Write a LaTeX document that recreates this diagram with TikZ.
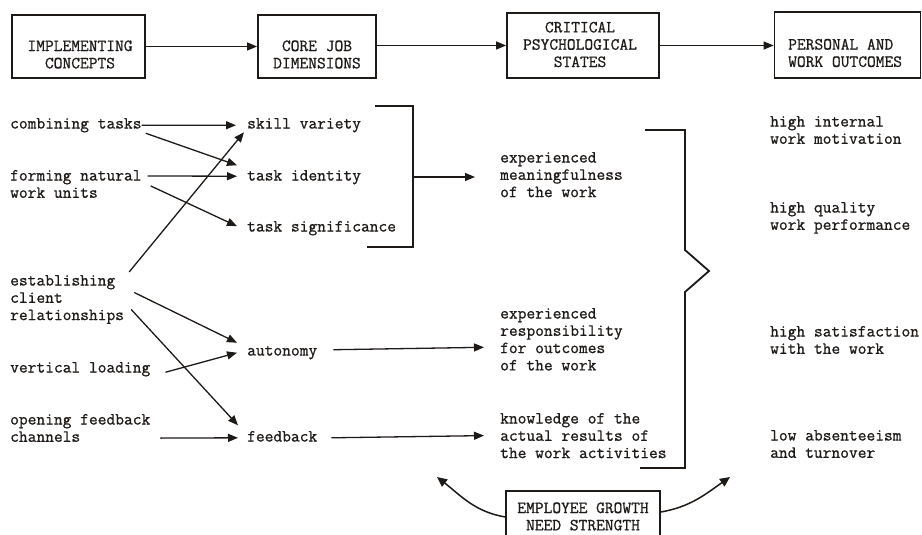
\documentclass[tikz,border=0pt]{standalone}
\usepackage{fontspec}
\usetikzlibrary{arrows.meta}
\newfontfamily\typewriter{Latin Modern Mono}[FakeBold=0.9]
\definecolor{ink}{HTML}{1E1A18}
\begin{document}
\begin{tikzpicture}[x=1pt,y=-1pt,
  typed/.style={font=\typewriter\fontsize{17}{17.3}\selectfont, text=ink, inner sep=0pt},
  tw/.style={typed, align=left, anchor=base west},
  box/.style={draw=ink, line width=1.8pt, inner sep=0pt},
  con/.style={draw=ink, line width=1.3pt, -{Triangle[length=10pt,width=8pt]}},
  curved/.style={draw=ink, line width=1.5pt, -{Triangle[length=10pt,width=9pt]}},
  brk/.style={draw=ink, line width=1.8pt, line join=miter}]
\path[use as bounding box, fill=white] (0,0) rectangle (922,535);
\clip (0,0) rectangle (922,535);

% top row of stage boxes
\node[box, minimum width=133pt, minimum height=63pt] (implbox) at (78.5,46.5) {};
\node[box, minimum width=118pt, minimum height=63pt] (corebox) at (317,46.5) {};
\node[box, minimum width=152pt, minimum height=65pt] (critbox) at (583,45.5) {};
\node[box, minimum width=146pt, minimum height=66pt] (persbox) at (847.5,45) {};
\node[typed, align=center] (impltxt) at (80,54.5) {IMPLEMENTING\\CONCEPTS};
\node[typed, align=center] (coretxt) at (317,54.5) {CORE JOB\\DIMENSIONS};
\node[typed, align=center] (crittxt) at (580,44.5) {CRITICAL\\PSYCHOLOGICAL\\STATES};
\node[typed, align=left, anchor=west] (perstxt) at (788,53) {PERSONAL AND\\WORK OUTCOMES};

\draw[con] (implbox.east) -- (implbox.east -| corebox.west);
\draw[con] (corebox.east |- critbox) -- (critbox.west);
\draw[con] (critbox.east) -- (critbox.east -| persbox.west);

% implementing concepts (multi-line nodes sit on the baseline of their last line)
\node[tw] (comb) at (10,128.5) {combining tasks};
\node[tw] (form) at (10,197.8) {forming natural\\work units};
\node[tw] (estab) at (10,320.1) {establishing\\client\\relationships};
\node[tw] (vert) at (10,372.5) {vertical loading};
\node[tw] (open) at (10,441.8) {opening feedback\\channels};

% core job dimensions
\node[tw] (skill) at (247,128.5) {skill variety};
\node[tw] (ident) at (247,180.5) {task identity};
\node[tw] (signif) at (247,231.5) {task significance};
\node[tw] (auton) at (247,355.5) {autonomy};
\node[tw] (feedb) at (247,441.5) {feedback};

% critical psychological states
\node[tw] (meaning) at (500,197.1) {experienced\\meaningfulness\\of the work};
\node[tw] (resp) at (500,370.4) {experienced\\responsibility\\for outcomes\\of the work};
\node[tw] (know) at (500,458.1) {knowledge of the\\actual results of\\the work activities};

% personal and work outcomes
\node[tw] (motiv) at (770,143.8) {high internal\\work motivation};
\node[tw] (perf) at (770,229.8) {high quality\\work performance};
\node[tw] (satis) at (770,353.8) {high satisfaction\\with the work};
\node[tw] (absent) at (770,457.8) {low absenteeism\\and turnover};

% moderator
\node[box, minimum width=154pt, minimum height=60pt] (empbox) at (583,521) {};
\node[typed, align=center] (emptxt) at (583,516.5) {EMPLOYEE GROWTH\\NEED STRENGTH};

% concepts to dimensions
\draw[con] ([shift={(0,0)}]comb.east) -- ([shift={(-11,0)}]skill.west);
\draw[con] ([shift={(4,8)}]comb.east) -- ([shift={(-10,-12)}]ident.west);
\draw[con] ([shift={(6,-8)}]form.east) -- ([shift={(-10,-1)}]ident.west);
\draw[con] ([shift={(9,2)}]form.east) -- ([shift={(-10,-2)}]signif.west);
\draw[con] ([shift={(5,-3)}]estab.north east) -- ([shift={(-3,7)}]skill.west);
\draw[con] ([shift={(10,-7)}]estab.east) -- ([shift={(-10,-10)}]auton.west);
\draw[con] ([shift={(7,10)}]estab.east) -- ([shift={(-9,-11)}]feedb.west);
\draw[con] ([shift={(15,3)}]vert.east) -- ([shift={(-10,0)}]auton.west);
\draw[con] ([shift={(10,-4)}]open.south east) -- ([shift={(-9,1.5)}]feedb.west);

% dimensions to states
\draw[brk] (375,106) -- (413,106) -- (413,247) -- (367,247);
\coordinate (b1) at (413,177);
\draw[con] (b1) -- ([shift={(-25,0)}]b1 -| meaning.west);
\draw[con] ([shift={(16,-3)}]auton.east) -- ([shift={(-16,8)}]resp.west);
\draw[con] ([shift={(14,1.5)}]feedb.east) -- ([shift={(-16,0)}]know.west);

% states to outcomes
\draw[brk] (645,130) -- (685,130) -- (685,250) -- (709,271) -- (685,292) -- (685,468) -- (640,468);

% moderating arrows
\coordinate (gl) at (437,477);
\coordinate (gr) at (730,477);
\draw[curved] ([yshift=4pt]empbox.west) to[out=170, in=-38] (gl);
\draw[curved] ([yshift=9pt]empbox.east) to[out=10, in=215] (gr);
\end{tikzpicture}
\end{document}
